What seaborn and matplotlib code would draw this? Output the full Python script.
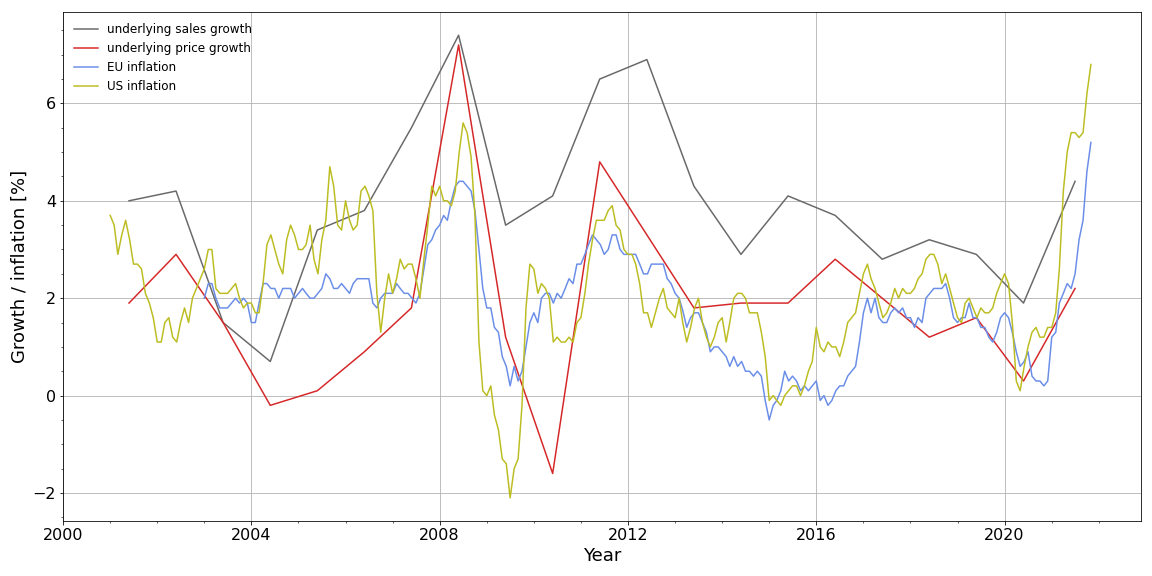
import pandas as pd
import matplotlib
matplotlib.use("Agg")
import matplotlib.pyplot as plt
import matplotlib.dates as mdates
from matplotlib.ticker import MultipleLocator
import seaborn as sns

# annual company figures (dated around mid-year)
annual_dates = ["2001-05-27", "2002-05-27", "2003-05-27", "2004-05-27", "2005-05-27",
                "2006-05-27", "2007-05-27", "2008-05-27", "2009-05-27", "2010-05-27",
                "2011-05-27", "2012-05-27", "2013-05-27", "2014-05-27", "2015-05-27",
                "2016-05-27", "2017-05-27", "2018-05-27", "2019-05-27", "2020-05-27",
                "2021-07-01"]
sales_growth = [4.0, 4.2, 1.5, 0.7, 3.4, 3.8, 5.5, 7.4, 3.5, 4.1, 6.5,
                6.9, 4.3, 2.9, 4.1, 3.7, 2.8, 3.2, 2.9, 1.9, 4.4]
price_growth = [1.9, 2.9, 1.5, -0.2, 0.1, 0.9, 1.8, 7.2, 1.2, -1.6, 4.8,
                3.3, 1.8, 1.9, 1.9, 2.8, 2.0, 1.2, 1.6, 0.3, 2.2]

# monthly EU inflation, Jan 2003 - Nov 2021
eu_start = "2003-01-01"
eu_inflation = [
    2.0, 2.3, 2.3, 2.0, 1.8, 1.8, 1.8, 1.9, 2.0, 1.9, 2.0, 1.9,   # 2003
    1.5, 1.5, 1.9, 2.3, 2.3, 2.2, 2.2, 2.0, 2.2, 2.2, 2.2, 2.0,   # 2004
    2.1, 2.2, 2.1, 2.0, 2.0, 2.1, 2.2, 2.5, 2.4, 2.2, 2.2, 2.3,   # 2005
    2.2, 2.1, 2.3, 2.4, 2.4, 2.4, 2.4, 1.9, 1.8, 2.0, 2.1, 2.1,   # 2006
    2.1, 2.3, 2.2, 2.1, 2.1, 2.0, 1.9, 2.1, 2.6, 3.1, 3.2, 3.4,   # 2007
    3.5, 3.7, 3.6, 4.0, 4.3, 4.4, 4.4, 4.3, 4.2, 3.8, 3.0, 2.2,   # 2008
    1.8, 1.8, 1.4, 1.3, 0.8, 0.6, 0.2, 0.6, 0.3, 0.5, 1.0, 1.5,   # 2009
    1.7, 1.5, 2.0, 2.1, 2.1, 1.9, 2.1, 2.0, 2.2, 2.4, 2.3, 2.7,   # 2010
    2.7, 2.9, 3.1, 3.3, 3.2, 3.1, 2.9, 3.0, 3.3, 3.3, 3.0, 2.9,   # 2011
    2.9, 2.9, 2.9, 2.7, 2.5, 2.5, 2.7, 2.7, 2.7, 2.7, 2.4, 2.3,   # 2012
    2.1, 2.0, 1.75, 1.4, 1.6, 1.7, 1.7, 1.5, 1.3, 0.9, 1.0, 1.0,  # 2013
    0.9, 0.8, 0.6, 0.8, 0.6, 0.7, 0.5, 0.5, 0.4, 0.5, 0.4, -0.1,  # 2014
    -0.5, -0.2, -0.1, 0.1, 0.5, 0.3, 0.4, 0.3, 0.1, 0.2, 0.1, 0.2,  # 2015
    0.3, -0.1, 0.0, -0.2, -0.1, 0.1, 0.2, 0.2, 0.4, 0.5, 0.6, 1.1,  # 2016
    1.7, 2.0, 1.7, 2.0, 1.6, 1.5, 1.5, 1.7, 1.8, 1.7, 1.8, 1.6,   # 2017
    1.6, 1.4, 1.6, 1.5, 2.0, 2.1, 2.2, 2.2, 2.2, 2.3, 2.0, 1.6,   # 2018
    1.5, 1.6, 1.6, 1.9, 1.6, 1.6, 1.4, 1.4, 1.2, 1.1, 1.3, 1.6,   # 2019
    1.7, 1.6, 1.3, 0.9, 0.6, 0.7, 0.9, 0.4, 0.3, 0.3, 0.2, 0.3,   # 2020
    1.2, 1.3, 1.9, 2.1, 2.3, 2.2, 2.5, 3.2, 3.6, 4.6, 5.2,        # 2021
]

# monthly US inflation, Jan 2001 - Nov 2021
us_start = "2001-01-01"
us_inflation = [
    3.7, 3.5, 2.9, 3.3, 3.6, 3.2, 2.7, 2.7, 2.6, 2.1, 1.9, 1.6,   # 2001
    1.1, 1.1, 1.5, 1.6, 1.2, 1.1, 1.5, 1.8, 1.5, 2.0, 2.2, 2.4,   # 2002
    2.6, 3.0, 3.0, 2.2, 2.1, 2.1, 2.1, 2.2, 2.3, 2.0, 1.8, 1.9,   # 2003
    1.9, 1.7, 1.7, 2.3, 3.1, 3.3, 3.0, 2.7, 2.5, 3.2, 3.5, 3.3,   # 2004
    3.0, 3.0, 3.1, 3.5, 2.8, 2.5, 3.2, 3.6, 4.7, 4.3, 3.5, 3.4,   # 2005
    4.0, 3.6, 3.4, 3.5, 4.2, 4.3, 4.1, 3.8, 2.1, 1.3, 2.0, 2.5,   # 2006
    2.1, 2.4, 2.8, 2.6, 2.7, 2.7, 2.4, 2.0, 2.8, 3.5, 4.3, 4.1,   # 2007
    4.3, 4.0, 4.0, 3.9, 4.2, 5.0, 5.6, 5.4, 4.9, 3.7, 1.1, 0.1,   # 2008
    0.0, 0.2, -0.4, -0.7, -1.3, -1.4, -2.1, -1.5, -1.3, -0.2, 1.8, 2.7,  # 2009
    2.6, 2.1, 2.3, 2.2, 2.0, 1.1, 1.2, 1.1, 1.1, 1.2, 1.1, 1.5,   # 2010
    1.6, 2.1, 2.7, 3.2, 3.6, 3.6, 3.6, 3.8, 3.9, 3.5, 3.4, 3.0,   # 2011
    2.9, 2.9, 2.7, 2.3, 1.7, 1.7, 1.4, 1.7, 2.0, 2.2, 1.8, 1.7,   # 2012
    1.6, 2.0, 1.5, 1.1, 1.4, 1.8, 2.0, 1.5, 1.2, 1.0, 1.2, 1.5,   # 2013
    1.6, 1.1, 1.5, 2.0, 2.1, 2.1, 2.0, 1.7, 1.7, 1.7, 1.3, 0.8,   # 2014
    -0.1, 0.0, -0.1, -0.2, 0.0, 0.1, 0.2, 0.2, 0.0, 0.2, 0.5, 0.7,  # 2015
    1.4, 1.0, 0.9, 1.1, 1.0, 1.0, 0.8, 1.1, 1.5, 1.6, 1.7, 2.1,   # 2016
    2.5, 2.7, 2.4, 2.2, 1.9, 1.6, 1.7, 1.9, 2.2, 2.0, 2.2, 2.1,   # 2017
    2.1, 2.2, 2.4, 2.5, 2.8, 2.9, 2.9, 2.7, 2.3, 2.5, 2.2, 1.9,   # 2018
    1.6, 1.5, 1.9, 2.0, 1.8, 1.6, 1.8, 1.7, 1.7, 1.8, 2.1, 2.3,   # 2019
    2.5, 2.3, 1.5, 0.3, 0.1, 0.6, 1.0, 1.3, 1.4, 1.2, 1.2, 1.4,   # 2020
    1.4, 1.7, 2.6, 4.2, 5.0, 5.4, 5.4, 5.3, 5.4, 6.2, 6.8,        # 2021
]

annual = pd.DataFrame({"date": pd.to_datetime(annual_dates),
                       "sales": sales_growth, "price": price_growth})
eu = pd.DataFrame({"date": pd.date_range(eu_start, periods=len(eu_inflation), freq="MS"),
                   "value": eu_inflation})
us = pd.DataFrame({"date": pd.date_range(us_start, periods=len(us_inflation), freq="MS"),
                   "value": us_inflation})

fig, ax = plt.subplots(figsize=(16, 8), dpi=72)
fig.subplots_adjust(left=0.0547, right=0.9905, bottom=0.0955, top=0.979)

lw = 1.5
sns.lineplot(data=annual, x="date", y="sales", ax=ax, color="#696969", lw=lw,
             label="underlying sales growth")
sns.lineplot(data=annual, x="date", y="price", ax=ax, color="#d62728", lw=lw,
             label="underlying price growth")
sns.lineplot(data=eu, x="date", y="value", ax=ax, color="#6a8ee8", lw=lw,
             label="EU inflation")
sns.lineplot(data=us, x="date", y="value", ax=ax, color="#bcbd22", lw=lw,
             label="US inflation")

ax.set_xlim(left=pd.Timestamp("2000-01-01"), right=pd.Timestamp("2022-11-25"))
ax.xaxis.set_major_locator(mdates.YearLocator(4))
ax.xaxis.set_minor_locator(mdates.YearLocator(1))
ax.xaxis.set_major_formatter(mdates.DateFormatter("%Y"))
ax.yaxis.set_major_locator(MultipleLocator(2))
ax.yaxis.set_minor_locator(MultipleLocator(0.5))

ax.grid(True, which="major", color="#b0b0b0", lw=0.8)
ax.tick_params(axis="both", which="major", labelsize=16)
ax.set_xlabel("Year", fontsize=18)
ax.set_ylabel("Growth / inflation [%]", fontsize=18)
ax.legend(loc="upper left", frameon=False, fontsize=12)

fig.savefig("out.png", dpi=72)
